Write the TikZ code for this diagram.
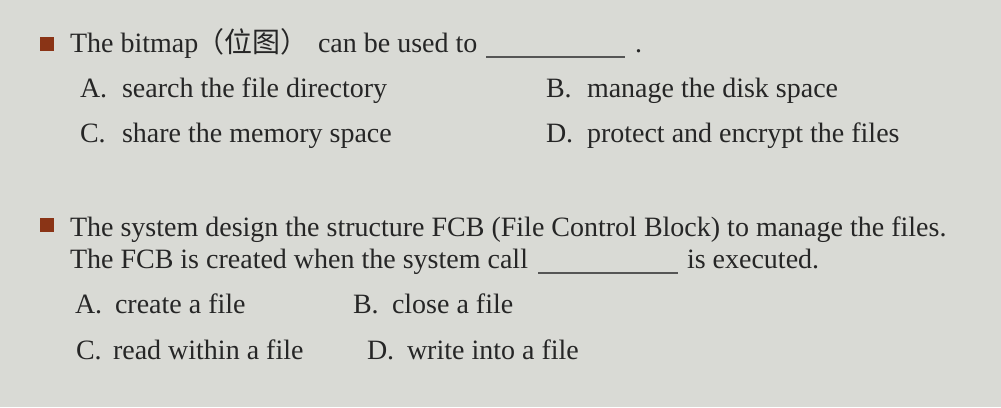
\documentclass[tikz,border=0pt]{standalone}
\usepackage{fontspec}
\setmainfont{Liberation Serif}
\newfontfamily\cjk{Noto Sans CJK SC}
\definecolor{bgc}{RGB}{217,218,213}
\definecolor{ink}{RGB}{38,38,38}
\definecolor{bul}{RGB}{138,52,22}
\definecolor{rule}{RGB}{85,85,85}
\begin{document}
\begin{tikzpicture}[x=1pt,y=-1pt,
  txt/.style={anchor=base west, inner sep=0pt, outer sep=0pt, text=ink, font=\fontsize{28}{32}\selectfont},
  bullet/.style={fill=bul, draw=none},
  blank/.style={draw=rule, line width=1.3pt}]
\fill[bgc] (0,0) rectangle (1001,407);
\useasboundingbox (0,0) rectangle (1001,407);
% question 1
\fill[bullet] (40,37) rectangle (54,51);
\node[txt] (q1a) at (70,52) {The bitmap};
\node[txt] (q1cjk) at (196,52) {\cjk （位图）};
\node[txt] (q1b) at (318,52) {can be used to};
\coordinate (b1s) at (486,57);
\coordinate (b1e) at (625,57);
\draw[blank] (b1s) -- (b1e);
\node[txt] (q1dot) at (635,52) {.};
\node[txt] (q1Al) at (80,97) {A.};
\node[txt] (q1At) at (122,97) {search the file directory};
\node[txt] (q1Bl) at (546,97) {B.};
\node[txt] (q1Bt) at (587,97) {manage the disk space};
\node[txt] (q1Cl) at (80,142) {C.};
\node[txt] (q1Ct) at (122,142) {share the memory space};
\node[txt] (q1Dl) at (546,142) {D.};
\node[txt] (q1Dt) at (587,142) {protect and encrypt the files};
% question 2
\fill[bullet] (40,218) rectangle (54,232);
\node[txt] (q2l1) at (70,236) {The system design the structure FCB (File Control Block) to manage the files.};
\node[txt] (q2l2) at (70,268) {The FCB is created when the system call};
\coordinate (b2s) at (538,273);
\coordinate (b2e) at (678,273);
\draw[blank] (b2s) -- (b2e);
\node[txt] (q2l3) at (687,268) {is executed.};
\node[txt] (q2Al) at (75,313) {A.};
\node[txt] (q2At) at (115,313) {create a file};
\node[txt] (q2Bl) at (353,313) {B.};
\node[txt] (q2Bt) at (392,313) {close a file};
\node[txt] (q2Cl) at (76,359) {C.};
\node[txt] (q2Ct) at (113,359) {read within a file};
\node[txt] (q2Dl) at (367,359) {D.};
\node[txt] (q2Dt) at (407,359) {write into a file};
\end{tikzpicture}
\end{document}
